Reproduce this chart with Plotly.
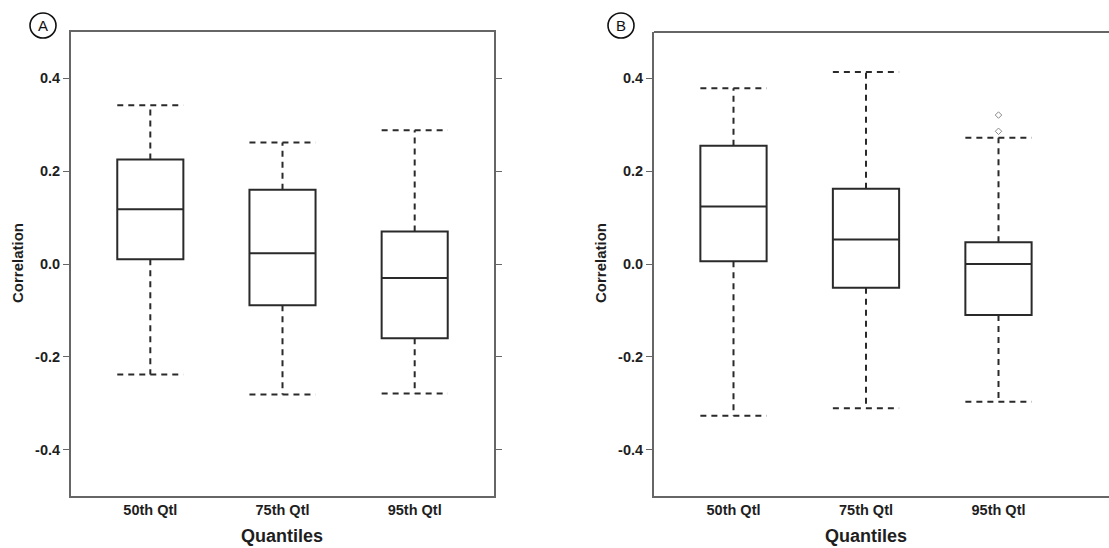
import plotly.graph_objects as go

# Quantile groups on the x axis
categories = ["50th Qtl", "75th Qtl", "95th Qtl"]
positions = [0, 1, 2]

# Panel A: five-number summaries of the correlations
a_low = [-0.238, -0.281, -0.279]
a_q1 = [0.010, -0.089, -0.160]
a_med = [0.118, 0.023, -0.030]
a_q3 = [0.225, 0.160, 0.070]
a_high = [0.342, 0.262, 0.288]

# Panel B: five-number summaries of the correlations
b_low = [-0.327, -0.311, -0.297]
b_q1 = [0.006, -0.051, -0.110]
b_med = [0.124, 0.053, 0.000]
b_q3 = [0.255, 0.162, 0.047]
b_high = [0.379, 0.414, 0.272]

# Panel B outliers above the 95th Qtl whisker
b_out_x = [2, 2]
b_out_y = [0.321, 0.286]

y_ticks = [-0.4, -0.2, 0.0, 0.2, 0.4]
y_tick_text = ["-0.4", "-0.2", "0.0", "0.2", "0.4"]

BOX_W = 0.5
INK = "#2a2a2a"
AXIS = "#666666"
FONT = "Liberation Sans, Arial, sans-serif"

W, H = 1109, 548


def px_x(p):
    return p / W


def px_y(p):
    return 1 - p / H


fig = go.Figure()


def add_panel(xa, ya, low, q1, med, q3, high):
    # boxes without whiskers (whiskers are drawn dashed below)
    fig.add_trace(go.Box(
        x=positions, q1=q1, median=med, q3=q3,
        lowerfence=q1, upperfence=q3,
        width=BOX_W, fillcolor="white",
        line=dict(color=INK, width=2),
        xaxis=xa, yaxis=ya, showlegend=False, hoverinfo="skip",
    ))
    wx, wy = [], []
    for x, lo, a, b, hi in zip(positions, low, q1, q3, high):
        # upper whisker + cap
        wx += [x, x, None, x - BOX_W / 2, x + BOX_W / 2, None]
        wy += [b, hi, None, hi, hi, None]
        # lower whisker + cap
        wx += [x, x, None, x - BOX_W / 2, x + BOX_W / 2, None]
        wy += [a, lo, None, lo, lo, None]
    fig.add_trace(go.Scatter(
        x=wx, y=wy, mode="lines",
        line=dict(color=INK, width=2, dash="6px,5px"),
        xaxis=xa, yaxis=ya, showlegend=False, hoverinfo="skip",
    ))


add_panel("x", "y", a_low, a_q1, a_med, a_q3, a_high)
add_panel("x2", "y2", b_low, b_q1, b_med, b_q3, b_high)

fig.add_trace(go.Scatter(
    x=b_out_x, y=b_out_y, mode="markers",
    marker=dict(symbol="diamond-open", size=5, color="#8a8a8a", line=dict(width=1)),
    xaxis="x2", yaxis="y2", showlegend=False, hoverinfo="skip",
))

y_dom = [px_y(496), px_y(32)]
tickfont = dict(family=FONT, size=14.5, color="#1e1e1e")

common_x = dict(
    tickvals=positions, ticktext=[f"<b>{c}</b>" for c in categories],
    tickfont=tickfont, ticks="", showgrid=False, zeroline=False,
    showline=True, linecolor=AXIS, linewidth=2,
)
common_y = dict(
    range=[-0.5, 0.5], tickvals=y_ticks, ticktext=[f"<b>{t}</b>" for t in y_tick_text],
    tickfont=tickfont, ticks="outside", ticklen=6, tickcolor=AXIS, tickwidth=1,
    showgrid=False, zeroline=False, showline=True, linecolor=AXIS, linewidth=2,
)

fig.update_layout(
    width=W, height=H,
    margin=dict(l=0, r=0, t=0, b=0),
    paper_bgcolor="white", plot_bgcolor="white",
    xaxis=dict(domain=[px_x(71), px_x(494)], range=[-0.6, 2.6], mirror=True,
               anchor="y", **common_x),
    yaxis=dict(domain=y_dom, anchor="x", mirror="ticks", **common_y),
    xaxis2=dict(domain=[px_x(654), 1.0], range=[-0.6, 2.834], mirror=False,
                anchor="y2", **common_x),
    yaxis2=dict(domain=y_dom, anchor="x2", **common_y),
)

# top border of panel B (its right edge lies beyond the page)
fig.add_shape(type="line", xref="x2 domain", yref="y2 domain",
              x0=0, x1=1, y0=1, y1=1, line=dict(color=AXIS, width=2))

annotations = []
for cx, letter in [(43, "A"), (621, "B")]:
    fig.add_shape(type="circle", xref="paper", yref="paper",
                  x0=px_x(cx - 13), x1=px_x(cx + 13),
                  y0=px_y(38), y1=px_y(13),
                  line=dict(color="#111111", width=1.6))
    annotations.append(dict(x=px_x(cx), y=px_y(25.5), xref="paper", yref="paper",
                            text=letter, showarrow=False,
                            font=dict(family=FONT, size=15, color="#111111"),
                            xanchor="center", yanchor="middle"))

for cx in [17, 600]:
    annotations.append(dict(x=px_x(cx), y=px_y(263), xref="paper", yref="paper",
                            text="<b>Correlation</b>", textangle=-90, showarrow=False,
                            font=dict(family=FONT, size=15, color="#1e1e1e"),
                            xanchor="center", yanchor="middle"))

for cx in [282, 866]:
    annotations.append(dict(x=px_x(cx), y=px_y(536), xref="paper", yref="paper",
                            text="<b>Quantiles</b>", showarrow=False,
                            font=dict(family=FONT, size=18, color="#1e1e1e"),
                            xanchor="center", yanchor="middle"))

fig.update_layout(annotations=annotations)

fig.write_html("out.html")
